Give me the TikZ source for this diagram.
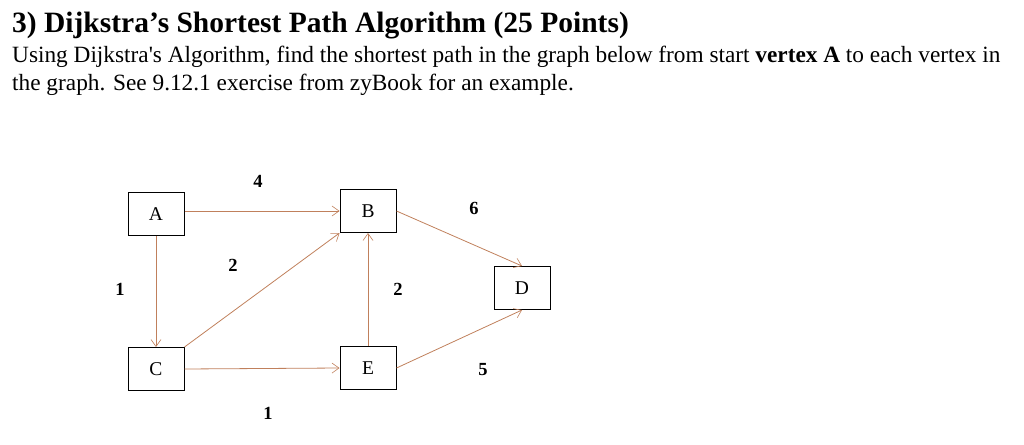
\documentclass[tikz,border=0pt]{standalone}
\usepackage{fontspec}
\setmainfont{Liberation Serif}
\usetikzlibrary{arrows.meta}
\definecolor{edge}{RGB}{192,128,92}
\begin{document}
\begin{tikzpicture}[x=1pt,y=-1pt,
  vbox/.style={draw,line width=1pt,minimum width=56pt,minimum height=43pt,inner sep=0pt,font=\fontsize{19.5}{22}\selectfont},
  edg/.style={draw=edge,line width=0.8pt,-{Straight Barb[length=7pt,width=10pt,line width=0.6pt]}},
  wt/.style={font=\bfseries\fontsize{18.5}{20}\selectfont},
  txt/.style={anchor=base west,inner sep=0pt,font=\fontsize{23.3}{26}\selectfont}]
\useasboundingbox (0,0) rectangle (1024,444);
\node[txt,font=\bfseries\fontsize{29.5}{32}\selectfont] (t) at (12,33) {3) Dijkstra’s Shortest Path Algorithm (25 Points)};
\node[txt] (l1) at (12,63) {Using Dijkstra\textquotesingle s Algorithm, find the shortest path in the graph below from start \textbf{vertex A} to each vertex in};
\node[txt] (l2) at (12,90) {the graph. See 9.12.1 exercise from zyBook for an example.};
\node[vbox] (A) at (156,214) {A};
\node[vbox] (B) at (368,211) {B};
\node[vbox] (D) at (522,288) {D};
\node[vbox] (C) at (156,369) {C};
\node[vbox] (E) at (368,368) {E};
\draw[edg] (A.east |- 0,211) -- (B.west);
\draw[edg] (A.south) -- (C.north);
\draw[edg] (C.north east) -- (B.south west);
\draw[edg] (C.east) -- (E.west);
\draw[edg] (E.north) -- (B.south);
\draw[edg] (B.east) -- (D.north);
\draw[edg] (E.east) -- (D.south);
\node[wt] (w1) at (258,181) {4};
\node[wt] (w2) at (474,208) {6};
\node[wt] (w3) at (120,289) {1};
\node[wt] (w4) at (233,265) {2};
\node[wt] (w5) at (398,289) {2};
\node[wt] (w6) at (483,370) {5};
\node[wt] (w7) at (268,413) {1};
\end{tikzpicture}
\end{document}
